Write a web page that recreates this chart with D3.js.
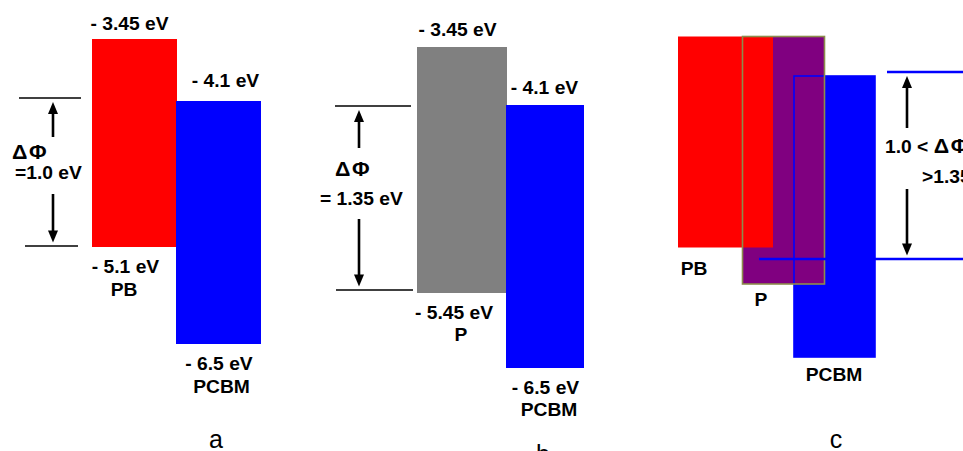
<!DOCTYPE html>
<html><head><meta charset="utf-8">
<script src="https://cdn.jsdelivr.net/npm/d3@7"></script>
<style>
body{margin:0;background:#fff;}
svg{display:block;}
text{font-family:"Liberation Sans",Arial,Helvetica,sans-serif;}
</style>
</head><body>
<svg id="chart" width="963" height="451"></svg>
<script>
// ---------------- DATA ----------------
const materials = ["PB", "P", "PCBM"];
const lumoEV = [-3.45, -3.45, -4.1];   // upper level (eV)
const homoEV = [-5.1, -5.45, -6.5];    // lower level (eV)
const panelNames = ["a", "b", "c"];
const panelMaterials = [["PB", "PCBM"], ["P", "PCBM"], ["PB", "P", "PCBM"]];
const deltaPhi = [1.0, 1.35, 1.1];     // c: value between 1.0 and 1.35
const deltaPhiText = [["ΔΦ", "=1.0 eV"], ["ΔΦ", "= 1.35 eV"], ["1.0 < ΔΦ", ">1.35 eV"]];
const showEnergyLabels = [true, true, false];

// ---------------- STYLE / LAYOUT ----------------
const fillColor = {PB: "#ff0000", P: "#808080", PCBM: "#0000ff"};
const fillColorC = {PB: "#ff0000", P: "#800080", PCBM: "#0000ff"};
const layout = [
  { levelsPx: [39, 101, 247, 344],
    bars: {PB: {x0: 92, x1: 177, lumoX: 129.5, lumoDy: -9, homoX: 125.5, nameX: 124, nameDy: 49},
           PCBM: {x0: 176, x1: 261, lumoX: 225.5, lumoDy: -14, homoX: 219, nameX: 221.5, nameDy: 49}},
    topLine: [19, 81], botLine: [25, 78], topNudge: -3, botNudge: -1,
    arrowX: 53, upTail: 137, downTail: 194,
    phiPos: [[12, 159], [15, 179]], lineColor: "#000", lineW: 1.6,
    letter: [216, 448] },
  { levelsPx: [47, 105, 293, 368],
    bars: {P: {x0: 417, x1: 507, lumoX: 457.5, lumoDy: -11, homoX: 454, nameX: 461, nameDy: 48},
           PCBM: {x0: 506, x1: 584, lumoX: 544.5, lumoDy: -11, homoX: 545.5, nameX: 549, nameDy: 48}},
    topLine: [335, 411], botLine: [336, 413], topNudge: 1, botNudge: -3,
    arrowX: 359, upTail: 148, downTail: 219,
    phiPos: [[335, 176], [320, 205]], lineColor: "#000", lineW: 1.6,
    letter: [543, 463] },
  { levelsPx: [36.5, 76, 247.5, 284, 357],
    bars: {PB: {x0: 678, x1: 773, nameX: 694, nameDy: 27.5},
           P: {x0: 742.5, x1: 824.5, nameX: 761, nameDy: 22},
           PCBM: {x0: 794, x1: 875, nameX: 834, nameDy: 24}},
    topLine: [887, 970], botLine: [759, 970], topNudge: -4, botNudge: 1,
    arrowX: 907, upTail: 128, downTail: 189,
    phiPos: [[885, 153], [922, 183]], lineColor: "#0000ff", lineW: 2.4,
    letter: [836, 448] }
];

const svg = d3.select("#chart");
const idx = m => materials.indexOf(m);
const SX = 1.1;
const fmt = v => "- " + Math.abs(v) + " eV";
function label(g, str, x, y, anchor, opts = {}) {
  return g.append("text")
    .attr("transform", `translate(${x},${y}) scale(${opts.sx || SX},1)`)
    .attr("text-anchor", anchor)
    .attr("font-size", opts.size || 17.5)
    .attr("font-weight", opts.weight || "bold")
    .attr("fill", "#000")
    .text(str);
}
function arrow(g, x, tail, tip) {
  const dir = tip < tail ? -1 : 1, hl = 12, hw = 5;
  g.append("line").attr("x1", x).attr("x2", x).attr("y1", tail).attr("y2", tip - dir * (hl - 1))
    .attr("stroke", "#000").attr("stroke-width", 2.6);
  g.append("path").attr("d", d3.line()([[x, tip], [x - hw, tip - dir * hl], [x + hw, tip - dir * hl]]) + "Z")
    .attr("fill", "#000");
}

panelNames.forEach((name, p) => {
  const L = layout[p];
  const mats = panelMaterials[p];
  const levels = Array.from(new Set(mats.flatMap(m => [lumoEV[idx(m)], homoEV[idx(m)]])))
    .sort((a, b) => b - a);
  const y = d3.scaleLinear().domain(levels).range(L.levelsPx);
  const g = svg.append("g");
  const colors = p === 2 ? fillColorC : fillColor;
  const rectOf = m => ({m, x: L.bars[m].x0, w: L.bars[m].x1 - L.bars[m].x0,
                        y0: y(lumoEV[idx(m)]), y1: y(homoEV[idx(m)])});

  if (p < 2) {
    g.selectAll("rect.bar").data(mats.map(rectOf)).join("rect").attr("class", "bar")
      .attr("x", d => d.x).attr("width", d => d.w)
      .attr("y", d => d.y0).attr("height", d => d.y1 - d.y0)
      .attr("fill", d => colors[d.m]);
  } else {
    // overlapping blend panel: PCBM, P, PB fills, then outlines on top
    const order = ["PCBM", "P", "PB"].map(rectOf);
    g.selectAll("rect.bar").data(order).join("rect").attr("class", "bar")
      .attr("x", d => d.x).attr("width", d => d.w)
      .attr("y", d => d.y0).attr("height", d => d.y1 - d.y0)
      .attr("fill", d => colors[d.m]);
    const outl = [rectOf("PCBM"), rectOf("P")];
    g.selectAll("rect.outl").data(outl).join("rect").attr("class", "outl")
      .attr("x", d => d.x).attr("width", d => d.w)
      .attr("y", d => d.y0).attr("height", d => d.y1 - d.y0)
      .attr("fill", "none")
      .attr("stroke", d => d.m === "P" ? "#8c8c4c" : "#0000ff")
      .attr("stroke-width", 1.6);
  }

  // labels
  mats.forEach(m => {
    const b = L.bars[m], i = idx(m);
    if (showEnergyLabels[p]) {
      label(g, fmt(lumoEV[i]), b.lumoX, y(lumoEV[i]) + b.lumoDy, "middle");
      label(g, fmt(homoEV[i]), b.homoX, y(homoEV[i]) + 25.5, "middle");
    }
    label(g, m, b.nameX, y(homoEV[i]) + b.nameDy, "middle");
  });

  // ΔΦ annotation
  const lumoAcc = lumoEV[idx("PCBM")];
  const yTop = y(lumoAcc) + L.topNudge;
  const yBot = y(lumoAcc - deltaPhi[p]) + L.botNudge;
  [[L.topLine, yTop], [L.botLine, yBot]].forEach(([xs, yy]) => {
    g.append("line").attr("x1", xs[0]).attr("x2", xs[1]).attr("y1", yy).attr("y2", yy)
      .attr("stroke", L.lineColor).attr("stroke-width", L.lineW);
  });
  arrow(g, L.arrowX, L.upTail, yTop + 4);
  arrow(g, L.arrowX, L.downTail, yBot - 3.5);
  deltaPhiText[p].forEach((t, k) => {
    const tx = label(g, "", L.phiPos[k][0], L.phiPos[k][1], "start");
    t.split(/(ΔΦ)/).forEach(s => {
      if (!s) return;
      const ts = tx.append("tspan").text(s);
      if (s === "ΔΦ") ts.attr("font-size", 19.5).attr("letter-spacing", 1.5);
    });
  });

  label(g, name, L.letter[0], L.letter[1], "middle", {size: 25, weight: "normal", sx: 1});
});
</script>
</body></html>
